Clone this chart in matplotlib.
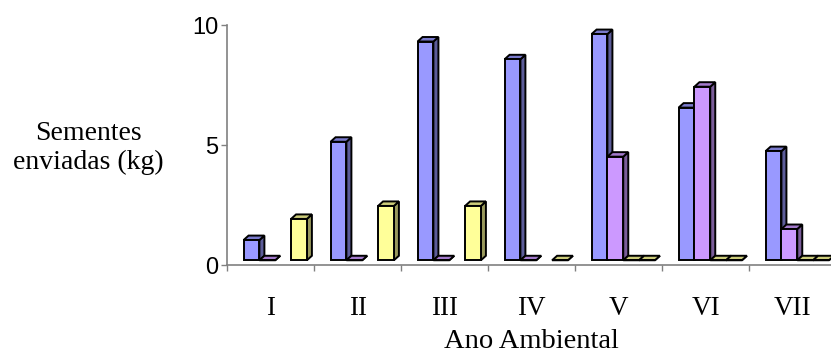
"""
    Sementes enviadas por Ano Ambiental (colunas com efeito 3D, estilo Excel)
"""

import matplotlib
matplotlib.use("Agg")
import matplotlib.pyplot as plt
from matplotlib.patches import Polygon
from matplotlib.colors import to_rgb
import numpy as np

anos = ['I', 'II', 'III', 'IV', 'V', 'VI', 'VII']
serie_azul = [0.84, 4.93, 9.10, 8.36, 9.41, 6.35, 4.54]
serie_lilas = [0, 0, 0, 0, 4.31, 7.22, 1.30]
serie_amarela1 = [np.nan, np.nan, np.nan, np.nan, 0, 0, 0]  # sem dado nos anos I-IV
serie_amarela2 = [1.72, 2.26, 2.26, 0, 0, 0, 0]
yticks = [0, 5, 10]

series = [serie_azul, serie_lilas, serie_amarela1, serie_amarela2]
cores = ['#9999FF', '#CC99FF', '#FFFF99', '#FFFF99']

fig = plt.figure(figsize=(8.31, 3.53), dpi=100)
ax = fig.add_axes([0.2732, 0.248, 0.7329, 0.681])
ax.set_xlim(-0.5, 6.5)
ax.set_ylim(0, 10)

larg = 0.182      # largura de cada coluna (em categorias)
inicio = -0.31    # inicio do grupo em relacao ao centro da categoria
base = 0.216      # piso 3D fica um pouco acima do eixo
dx, dy = 0.0575, 0.187   # profundidade das colunas

def escurece(cor, f):
    return tuple(v*f for v in to_rgb(cor))

def barra3d(x, h, cor):
    y0 = base
    y1 = base + h
    frente = [(x, y0), (x+larg, y0), (x+larg, y1), (x, y1)]
    topo = [(x, y1), (x+larg, y1), (x+larg+dx, y1+dy), (x+dx, y1+dy)]
    lado = [(x+larg, y0), (x+larg+dx, y0+dy), (x+larg+dx, y1+dy), (x+larg, y1)]
    kw = dict(edgecolor='black', linewidth=1.4, joinstyle='miter')
    ax.add_patch(Polygon(lado, closed=True, facecolor=escurece(cor, 0.6), **kw))
    ax.add_patch(Polygon(topo, closed=True, facecolor=escurece(cor, 0.8), **kw))
    ax.add_patch(Polygon(frente, closed=True, facecolor=cor, **kw))

for k in range(len(anos)):
    for i, s in enumerate(series):
        v = s[k]
        if np.isnan(v):
            continue
        barra3d(k + inicio + i*larg, v, cores[i])

cinza = '#808080'
for lado in ['top', 'right']:
    ax.spines[lado].set_visible(False)
for lado in ['left', 'bottom']:
    ax.spines[lado].set_color(cinza)
    ax.spines[lado].set_linewidth(1.2)

ax.set_yticks(yticks)
ax.set_yticklabels([str(t) for t in yticks], family='Liberation Sans', fontsize=17)
ax.tick_params(axis='y', direction='out', length=4.5, width=1, color=cinza, pad=2)

ax.set_xticks(range(len(anos)))
ax.set_xticklabels(anos, family='Liberation Serif', fontsize=19.5)
ax.set_xticks(np.arange(-0.5, len(anos), 1), minor=True)
ax.tick_params(axis='x', which='major', length=0, pad=22)
ax.tick_params(axis='x', which='minor', direction='out', length=4.5, width=1, color=cinza)

ax.set_xlabel('Ano Ambiental', family='Liberation Serif', fontsize=20.5)
ax.xaxis.set_label_coords(0.5, -0.265)
ax.set_ylabel('Sementes\nenviadas (kg)', family='Liberation Serif', fontsize=20,
              rotation=0, ha='center', va='center', linespacing=1.2)
ax.yaxis.set_label_coords(-0.228, 0.49)

fig.savefig('out.png', dpi=100)
